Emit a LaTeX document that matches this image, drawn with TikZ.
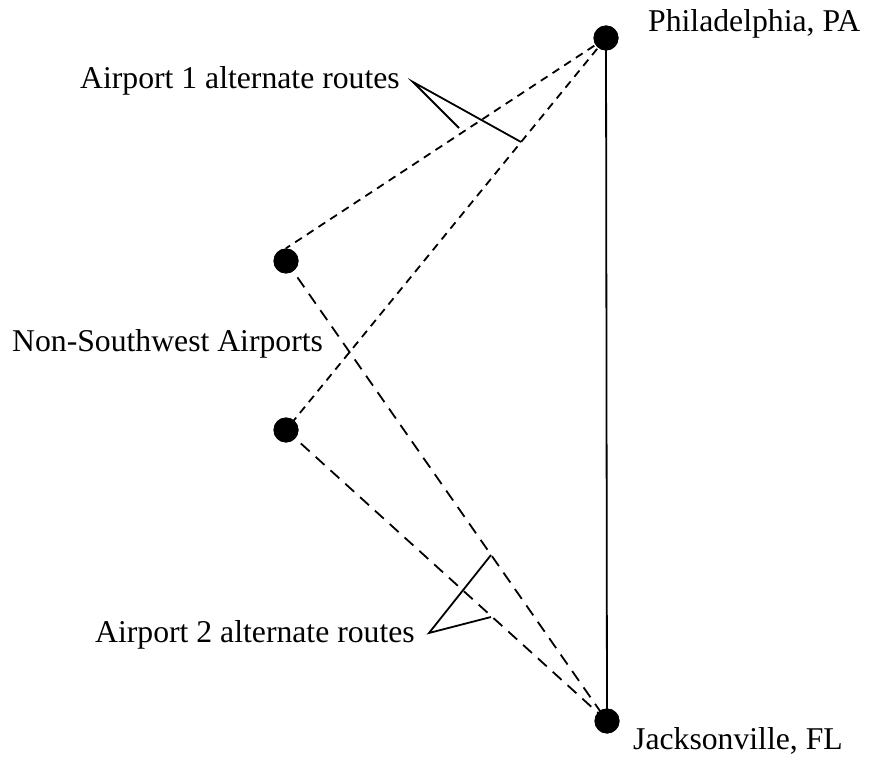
\documentclass[tikz,border=0pt]{standalone}
\usepackage{fontspec}
\setmainfont{Liberation Serif}
\begin{document}
\begin{tikzpicture}[x=1pt,y=-1pt,
  dot/.style={circle,fill=black,draw=none,minimum size=25pt,inner sep=0pt},
  lbl/.style={anchor=base west,inner sep=0pt,font=\fontsize{31.7pt}{36pt}\selectfont},
  route/.style={line width=1.8pt},
  shortdash/.style={line width=1.8pt,dash pattern=on 8pt off 6pt},
  longdash/.style={line width=1.8pt,dash pattern=on 12pt off 8pt},
  callout/.style={line width=1.8pt}]
\useasboundingbox (0,0) rectangle (871,762);
% airports
\node[dot] (phil) at (606,38) {};
\node[dot] (jax) at (607,721) {};
\node[dot] (a1) at (286,261) {};
\node[dot] (a2) at (286,430) {};
% labels
\node[lbl] (lphil) at (648,32) {Philadelphia, PA};
\node[lbl] (ljax) at (633,749) {Jacksonville, FL};
\node[lbl] (lr1) at (80,89) {Airport 1 alternate routes};
\node[lbl] (lnsw) at (12,352) {Non-Southwest Airports};
\node[lbl] (lr2) at (95,642) {Airport 2 alternate routes};
% routes
\draw[route] (phil.center) -- (jax.center);
\draw[shortdash] (phil.center) -- (a1.north);
\draw[shortdash] (phil.center) -- (a2.center);
\draw[longdash] (a1.center) -- (jax.center);
\draw[longdash] (a2.center) -- (jax.center);
% callouts
\coordinate (v1) at (413,82);
\coordinate (e11) at (459,128);
\coordinate (e12) at (521,142);
\coordinate (v2) at (429,633);
\coordinate (e21) at (491,555);
\coordinate (e22) at (491,617);
\draw[callout] (e11) -- (v1) -- (e12);
\draw[callout] (e21) -- (v2) -- (e22);
% redraw dots on top
\node[dot] at (phil.center) {};
\node[dot] at (jax.center) {};
\node[dot] at (a1.center) {};
\node[dot] at (a2.center) {};
\end{tikzpicture}
\end{document}
